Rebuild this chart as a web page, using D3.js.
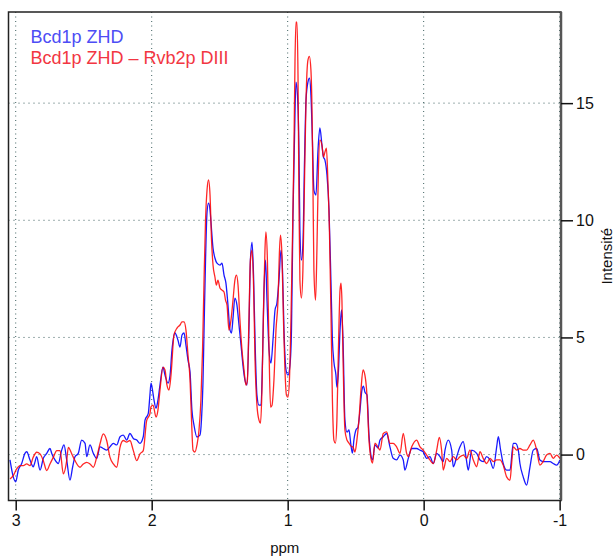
<!DOCTYPE html>
<html>
<head>
<meta charset="utf-8">
<script src="https://cdn.jsdelivr.net/npm/d3@7"></script>
<style>
  body { margin: 0; background: #fff; }
  text { font-family: "Liberation Sans", Arial, sans-serif; }
</style>
</head>
<body>
<div id="spectrum"></div>
<script>
// ppm / intensity pairs
var blueLabel = "Bcd1p ZHD";
var redLabel = "Bcd1p ZHD \u2013 Rvb2p DIII";

var blueData = [
  [3.042,-0.23],[3.018,-0.95],[3.000,-1.16],[2.981,-0.66],[2.956,-0.38],[2.932,0.05],[2.919,0.12],[2.895,-0.23],
  [2.871,-0.52],[2.858,-0.31],[2.846,-0.09],[2.821,-0.66],[2.797,-0.16],[2.772,0.05],[2.748,0.26],[2.735,0.05],
  [2.711,-0.23],[2.687,-0.38],[2.662,0.19],[2.645,0.41],[2.625,-0.23],[2.601,-1.09],[2.581,-0.52],[2.564,-0.09],
  [2.540,0.05],[2.515,0.62],[2.490,0.48],[2.478,-0.09],[2.454,0.41],[2.429,0.05],[2.404,-0.16],[2.380,0.33],
  [2.356,0.26],[2.331,0.19],[2.307,0.33],[2.282,0.48],[2.257,0.41],[2.233,0.76],[2.209,0.83],[2.184,0.62],
  [2.160,0.90],[2.135,0.69],[2.110,0.62],[2.086,0.48],[2.062,0.76],[2.049,1.47],[2.025,1.76],[2.013,2.54],
  [2.005,3.05],[1.994,2.75],[1.983,2.33],[1.968,1.98],[1.954,2.33],[1.939,2.97],[1.917,3.73],[1.902,3.39],
  [1.880,3.05],[1.865,3.39],[1.851,4.46],[1.829,5.19],[1.807,4.89],[1.792,4.59],[1.777,5.10],[1.762,5.19],
  [1.748,4.67],[1.733,4.03],[1.718,3.52],[1.704,1.90],[1.689,1.26],[1.667,0.75],[1.645,0.83],[1.634,1.47],
  [1.623,3.05],[1.615,5.31],[1.604,8.30],[1.593,10.35],[1.582,10.73],[1.571,10.44],[1.564,9.92],[1.549,8.81],
  [1.535,8.39],[1.520,8.17],[1.498,8.09],[1.483,8.17],[1.468,7.66],[1.454,7.32],[1.439,6.38],[1.424,5.31],
  [1.413,5.19],[1.402,5.83],[1.388,6.68],[1.373,6.38],[1.358,5.53],[1.343,4.67],[1.329,3.82],[1.314,3.18],
  [1.299,2.97],[1.285,5.31],[1.274,8.30],[1.262,9.07],[1.251,7.66],[1.240,4.89],[1.226,2.54],[1.211,2.11],
  [1.196,2.11],[1.185,4.03],[1.174,7.02],[1.163,8.30],[1.152,6.59],[1.137,4.46],[1.123,3.90],[1.108,4.89],
  [1.093,6.17],[1.079,6.47],[1.064,7.45],[1.049,8.73],[1.038,7.87],[1.027,5.31],[1.012,3.61],[0.998,3.39],
  [0.983,3.82],[0.972,5.31],[0.961,10.22],[0.950,13.42],[0.939,15.90],[0.928,15.35],[0.917,13.00],[0.910,9.58],
  [0.899,8.30],[0.888,8.94],[0.876,12.57],[0.865,15.14],[0.851,15.90],[0.840,16.07],[0.829,15.35],[0.818,13.42],
  [0.807,11.29],[0.792,11.08],[0.777,13.00],[0.763,13.94],[0.748,13.21],[0.737,12.70],[0.726,12.57],[0.711,11.93],
  [0.696,10.44],[0.682,7.45],[0.671,4.89],[0.660,3.95],[0.645,3.39],[0.638,2.88],[0.627,3.52],[0.615,5.31],
  [0.604,6.17],[0.593,4.89],[0.579,1.47],[0.564,0.96],[0.549,1.05],[0.535,0.41],[0.524,0.06],[0.513,0.62],
  [0.498,1.05],[0.483,1.17],[0.468,1.90],[0.454,2.75],[0.443,2.92],[0.432,2.67],[0.417,2.54],[0.402,0.83],
  [0.388,-0.02],[0.376,-0.23],[0.358,0.41],[0.336,0.28],[0.321,0.62],[0.297,0.76],[0.272,0.90],[0.248,0.33],
  [0.224,-0.16],[0.199,-0.23],[0.174,-0.02],[0.150,-0.23],[0.138,-0.66],[0.113,-0.16],[0.088,0.26],[0.052,0.26],
  [0.027,0.19],[0.003,0.12],[-0.022,-0.16],[-0.046,-0.09],[-0.071,-0.38],[-0.096,0.05],[-0.120,-0.09],[-0.144,-0.30],
  [-0.157,0.19],[-0.181,0.62],[-0.206,0.19],[-0.218,-0.52],[-0.243,-0.09],[-0.267,0.33],[-0.291,0.55],[-0.311,-0.09],
  [-0.328,-0.66],[-0.353,0.19],[-0.390,0.05],[-0.414,-0.23],[-0.438,-0.30],[-0.463,-0.09],[-0.488,-0.23],[-0.512,-0.59],
  [-0.537,0.33],[-0.549,0.76],[-0.566,0.19],[-0.585,-0.38],[-0.610,-0.66],[-0.635,-0.66],[-0.659,0.48],[-0.676,0.48],
  [-0.696,0.19],[-0.708,-0.38],[-0.732,-0.95],[-0.757,-1.30],[-0.782,-0.52],[-0.806,0.19],[-0.831,0.26],[-0.855,-0.23],
  [-0.879,-0.30],[-0.904,-0.30],[-0.929,-0.30],[-0.953,-0.38],[-0.978,-0.45],[-1.002,-0.23]
];

var redData = [
  [3.042,-1.04],[3.018,-0.90],[2.993,-0.61],[2.968,-0.47],[2.944,-0.47],[2.919,-0.40],[2.895,-0.47],[2.871,-0.11],
  [2.846,0.10],[2.821,0.03],[2.797,-0.26],[2.772,-0.68],[2.748,-0.40],[2.723,-0.11],[2.698,0.17],[2.674,0.17],
  [2.650,-0.82],[2.625,-0.26],[2.613,0.31],[2.588,0.03],[2.564,-0.26],[2.527,-0.54],[2.503,-0.40],[2.478,-0.33],
  [2.454,-0.40],[2.429,-0.54],[2.404,-0.11],[2.380,0.46],[2.356,0.88],[2.331,0.60],[2.307,-0.11],[2.282,-0.40],
  [2.257,-0.54],[2.233,0.31],[2.209,0.60],[2.184,0.53],[2.160,0.60],[2.135,0.17],[2.110,-0.26],[2.086,0.03],
  [2.062,0.17],[2.037,1.45],[2.013,1.74],[2.005,2.04],[1.990,2.11],[1.968,1.60],[1.954,1.90],[1.939,2.75],
  [1.917,3.73],[1.902,3.61],[1.888,2.97],[1.873,2.75],[1.858,3.39],[1.836,5.10],[1.814,5.40],[1.792,5.53],
  [1.777,5.66],[1.762,5.66],[1.748,5.31],[1.733,4.25],[1.718,3.18],[1.707,1.47],[1.696,0.19],[1.682,0.11],
  [1.667,0.41],[1.652,1.05],[1.638,2.33],[1.626,4.46],[1.615,7.45],[1.604,10.01],[1.593,11.29],[1.582,11.72],
  [1.571,11.08],[1.560,9.16],[1.549,8.09],[1.535,7.58],[1.524,7.23],[1.513,7.45],[1.498,7.11],[1.483,7.02],
  [1.468,6.94],[1.457,6.59],[1.446,6.38],[1.432,5.31],[1.417,5.74],[1.402,6.59],[1.388,7.45],[1.376,7.66],
  [1.365,7.23],[1.351,5.74],[1.336,4.46],[1.321,3.61],[1.307,2.97],[1.296,3.18],[1.285,5.74],[1.274,8.30],
  [1.262,8.73],[1.251,7.23],[1.240,4.03],[1.226,2.11],[1.211,1.47],[1.200,1.34],[1.189,2.75],[1.178,6.17],
  [1.167,8.73],[1.160,9.50],[1.149,8.30],[1.137,4.46],[1.126,2.03],[1.115,2.11],[1.101,3.18],[1.086,5.31],
  [1.071,6.59],[1.060,8.73],[1.053,9.37],[1.042,8.51],[1.031,5.74],[1.020,3.61],[1.009,2.54],[0.998,2.45],
  [0.987,3.18],[0.976,5.74],[0.965,9.16],[0.954,13.00],[0.946,16.84],[0.939,18.46],[0.932,18.46],[0.924,16.20],
  [0.917,10.86],[0.910,7.45],[0.899,6.68],[0.888,7.87],[0.876,11.72],[0.865,15.14],[0.851,16.84],[0.840,17.00],
  [0.829,16.41],[0.821,14.70],[0.814,11.42],[0.807,7.87],[0.795,6.59],[0.785,8.73],[0.774,12.14],[0.763,13.42],
  [0.748,13.21],[0.737,12.70],[0.726,12.91],[0.715,13.08],[0.704,11.63],[0.693,9.58],[0.682,6.17],[0.671,2.33],
  [0.660,0.62],[0.649,0.49],[0.638,1.47],[0.627,4.46],[0.615,7.02],[0.608,7.32],[0.601,6.59],[0.593,4.16],
  [0.579,1.05],[0.564,0.62],[0.549,0.49],[0.535,0.36],[0.520,0.32],[0.505,0.11],[0.491,0.62],[0.476,1.47],
  [0.461,2.75],[0.446,3.61],[0.432,3.39],[0.417,2.54],[0.402,0.62],[0.388,-0.15],[0.376,-0.36],[0.358,0.49],
  [0.336,0.32],[0.321,0.19],[0.297,0.90],[0.272,0.97],[0.248,0.48],[0.224,0.48],[0.199,0.33],[0.174,0.05],
  [0.150,0.90],[0.125,0.05],[0.113,-0.09],[0.088,0.33],[0.052,0.62],[0.027,0.33],[0.003,0.19],[-0.022,-0.02],
  [-0.046,-0.23],[-0.071,-0.38],[-0.096,0.19],[-0.115,0.73],[-0.132,0.19],[-0.144,-0.66],[-0.169,-0.16],[-0.193,-0.30],
  [-0.218,-0.09],[-0.243,-0.23],[-0.267,-0.09],[-0.291,-0.02],[-0.316,-0.16],[-0.340,0.19],[-0.365,-0.23],[-0.390,-0.52],
  [-0.414,0.12],[-0.438,-0.16],[-0.463,-0.38],[-0.488,-0.16],[-0.512,-0.30],[-0.537,-0.23],[-0.561,-0.23],[-0.585,-0.45],
  [-0.610,-0.95],[-0.635,-1.09],[-0.647,-0.38],[-0.659,0.33],[-0.684,0.19],[-0.708,0.26],[-0.732,0.19],[-0.757,0.19],
  [-0.782,0.41],[-0.806,0.62],[-0.831,0.19],[-0.855,-0.45],[-0.879,-0.30],[-0.904,-0.02],[-0.929,0.05],[-0.953,-0.16],
  [-0.978,-0.02],[-1.002,-0.16]
];

var xTicks = [3, 2, 1, 0, -1];
var yTicks = [0, 5, 10, 15];

var width = 616,
  height = 558;

// plot frame edges, in pixels
var plotLeft = 8.5, plotRight = 561, plotTop = 12, plotBottom = 500.5;

var svg = d3
  .select("#spectrum")
  .append("svg")
  .attr("width", width)
  .attr("height", height);

// ppm axis runs backwards, as usual for NMR
var x = d3.scaleLinear().domain([3.053, -1.01]).range([plotLeft, plotRight]);
var y = d3.scaleLinear().domain([-1.96, 18.89]).range([plotBottom, plotTop]);

// dotted grid
svg.append("g")
  .selectAll("line")
  .data(xTicks)
  .enter()
  .append("line")
  .attr("x1", d => x(d)).attr("x2", d => x(d))
  .attr("y1", plotTop).attr("y2", plotBottom)
  .attr("stroke", "#3d5f5f")
  .attr("stroke-width", 1)
  .attr("stroke-dasharray", "1,3.5");

svg.append("g")
  .selectAll("line")
  .data(yTicks)
  .enter()
  .append("line")
  .attr("x1", plotLeft).attr("x2", plotRight)
  .attr("y1", d => y(d)).attr("y2", d => y(d))
  .attr("stroke", "#3d5f5f")
  .attr("stroke-width", 1)
  .attr("stroke-dasharray", "1,4");

var line = d3.line()
  .x(d => x(d[0]))
  .y(d => y(d[1]))
  .curve(d3.curveMonotoneX);

svg.append("path")
  .datum(blueData)
  .attr("fill", "none")
  .attr("stroke", "#0000ff")
  .attr("stroke-opacity", 0.9)
  .attr("stroke-width", 1.3)
  .attr("d", line);

svg.append("path")
  .datum(redData)
  .attr("fill", "none")
  .attr("stroke", "#ff0000")
  .attr("stroke-opacity", 0.85)
  .attr("stroke-width", 1.3)
  .attr("d", line);

// frame
svg.append("rect")
  .attr("x", plotLeft).attr("y", plotTop)
  .attr("width", plotRight - plotLeft).attr("height", plotBottom - plotTop)
  .attr("fill", "none")
  .attr("stroke", "#222")
  .attr("stroke-width", 1.5);

svg.append("line")
  .attr("x1", plotRight).attr("x2", plotRight)
  .attr("y1", plotTop).attr("y2", plotBottom)
  .attr("stroke", "#555")
  .attr("stroke-width", 2.5);

var xAxis = svg.append("g")
  .attr("transform", "translate(0," + plotBottom + ")")
  .call(d3.axisBottom(x).tickValues(xTicks).tickSize(10).tickPadding(4).tickFormat(d => String(d)));

var yAxis = svg.append("g")
  .attr("transform", "translate(" + plotRight + ",0)")
  .call(d3.axisRight(y).tickValues(yTicks).tickSize(12).tickPadding(3).tickFormat(d => String(d)));

[xAxis, yAxis].forEach(function (a) {
  a.select(".domain").remove();
  a.selectAll(".tick line").attr("stroke", "#111").attr("stroke-width", 1.5);
  a.selectAll(".tick text")
    .attr("fill", "#111")
    .style("font-size", "16px")
    .style("font-family", "'Liberation Sans', Arial, sans-serif");
});

svg.append("text")
  .attr("x", (plotLeft + plotRight) / 2)
  .attr("y", 553)
  .attr("text-anchor", "middle")
  .style("font-size", "15px")
  .attr("fill", "#111")
  .text("ppm");

svg.append("text")
  .attr("transform", "translate(612," + (plotTop + plotBottom) / 2 + ") rotate(-90)")
  .attr("text-anchor", "middle")
  .style("font-size", "15px")
  .attr("fill", "#111")
  .text("Intensit\u00e9");

// legend
svg.append("text")
  .attr("x", 30.5)
  .attr("y", 43)
  .style("font-size", "18px")
  .attr("fill", "#4d4df5")
  .text(blueLabel);

svg.append("text")
  .attr("x", 30.5)
  .attr("y", 63.5)
  .style("font-size", "18px")
  .attr("fill", "#f23642")
  .text(redLabel);
</script>
</body>
</html>
